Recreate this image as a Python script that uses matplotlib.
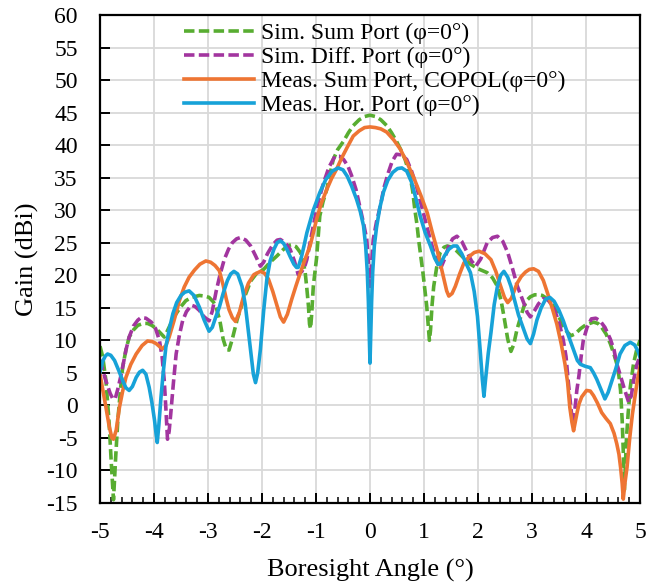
import matplotlib
matplotlib.use("Agg")
import matplotlib.pyplot as plt
from matplotlib.ticker import MultipleLocator

plt.rcParams['font.family'] = ['Liberation Serif', 'DejaVu Serif']
plt.rcParams['axes.unicode_minus'] = False

# ---- data ----
sum_sim_x = [-5.0, -4.95, -4.89, -4.83, -4.79, -4.75, -4.71, -4.67, -4.62, -4.58, -4.52, -4.46, -4.38,
             -4.3, -4.2, -4.12, -4.04, -3.96, -3.88, -3.81, -3.75, -3.67, -3.59, -3.5, -3.41, -3.3,
             -3.16, -3.06, -2.98, -2.9, -2.85, -2.78, -2.72, -2.66, -2.61, -2.55, -2.46, -2.34, -2.21,
             -2.1, -1.97, -1.85, -1.72, -1.6, -1.5, -1.45, -1.37, -1.29, -1.24, -1.2, -1.17, -1.14,
             -1.12, -1.1, -1.08, -1.05, -1.02, -0.99, -0.96, -0.93, -0.87, -0.8, -0.74, -0.68, -0.6,
             -0.49, -0.4, -0.31, -0.2, -0.1, 0.0, 0.1, 0.2, 0.31, 0.4, 0.49, 0.57, 0.65, 0.74, 0.79,
             0.83, 0.87, 0.9, 0.94, 0.98, 1.02, 1.05, 1.08, 1.1, 1.12, 1.15, 1.18, 1.24, 1.3, 1.37,
             1.43, 1.52, 1.61, 1.73, 1.86, 2.0, 2.17, 2.27, 2.36, 2.43, 2.48, 2.55, 2.61, 2.66, 2.72,
             2.79, 2.85, 2.91, 2.97, 3.05, 3.12, 3.19, 3.28, 3.41, 3.5, 3.56, 3.64, 3.72, 3.8,
             3.9, 4.0, 4.14, 4.22, 4.29, 4.37, 4.45, 4.52, 4.57, 4.61, 4.64, 4.67, 4.69, 4.71, 4.75,
             4.78, 4.82, 4.88, 4.94, 5.0]
sum_sim_y = [9.1, 7.5, 3.8, -2.8, -9.0, -14.5, -8.0, -2.3, 2.5, 5.9, 8.5, 10.5, 11.6,
             12.3, 12.6, 12.6, 12.3, 11.8, 11.1, 10.5, 11.5, 12.9, 14.1, 15.2, 16.1, 16.6,
             16.9, 16.8, 16.6, 15.9, 15.1, 13.0, 10.2, 8.6, 8.5, 10.2, 13.2, 16.3, 19.1,
             20.3, 20.9, 22.0, 23.0, 24.0, 24.6, 24.7, 24.4, 23.5, 22.2, 20.4, 18.0, 15.3,
             12.5, 11.8, 14.0, 18.3, 20.5, 22.6, 25.8, 29.1, 31.3, 33.2, 35.6, 37.8, 39.3,
             40.6, 41.9, 43.0, 43.9, 44.4, 44.6, 44.4, 43.9, 43.0, 41.9, 40.6, 39.3, 37.8, 35.3, 33.0,
             30.1, 27.8, 25.5, 23.0, 20.4, 17.5, 15.3, 12.0, 10.0, 11.5, 15.5, 18.3, 21.5, 23.5, 24.3,
             24.5, 24.3, 23.7, 22.7, 21.7, 21.0, 20.4, 19.6, 18.3, 16.0, 13.7, 10.2, 8.3, 9.3, 11.6,
             13.6, 15.2, 16.2, 16.7, 17.0, 17.0, 16.9, 16.4, 15.1, 13.6, 12.5, 11.4, 10.7, 11.0,
             11.8, 12.4, 12.8, 12.6, 12.0, 11.0, 9.5, 7.8, 6.4, 4.5, 2.3, -2.3, -7.0, -13.0, -5.0,
             -1.3, 2.8, 6.4, 8.6, 10.0]

diff_sim_x = [-5.0, -4.95, -4.9, -4.86, -4.81, -4.76, -4.72, -4.67, -4.62, -4.58, -4.52, -4.46, -4.38,
              -4.3, -4.24, -4.15, -4.05, -3.97, -3.9, -3.85, -3.81, -3.78, -3.75, -3.72, -3.69, -3.64,
              -3.59, -3.53, -3.47, -3.4, -3.31, -3.24, -3.16, -3.07, -2.98, -2.92, -2.85, -2.78, -2.7,
              -2.62, -2.55, -2.47, -2.4, -2.3, -2.21, -2.12, -2.03, -1.97, -1.9, -1.8, -1.72, -1.66,
              -1.57, -1.48, -1.4, -1.33, -1.26, -1.2, -1.17, -1.11, -1.05, -0.96, -0.86, -0.76, -0.65,
              -0.57, -0.49, -0.41, -0.34, -0.26, -0.19, -0.12, -0.06, -0.03, 0.0, 0.03, 0.06, 0.12,
              0.19, 0.26, 0.34, 0.41, 0.49, 0.58, 0.68, 0.77, 0.86, 0.95, 1.05, 1.1, 1.15, 1.22, 1.3,
              1.38, 1.46, 1.53, 1.61, 1.7, 1.8, 1.88, 1.96, 2.05, 2.17, 2.27, 2.36, 2.46, 2.55, 2.64,
              2.73, 2.79, 2.85, 2.91, 2.97, 3.05, 3.12, 3.21, 3.3, 3.4, 3.5, 3.58, 3.63, 3.67, 3.71,
              3.75, 3.79, 3.83, 3.87, 3.91, 3.95, 4.02, 4.1, 4.18, 4.26, 4.35, 4.45, 4.52, 4.57, 4.64,
              4.7, 4.79, 4.84, 4.88, 4.94, 5.0]
diff_sim_y = [7.0, 5.5, 4.0, 3.0, 1.8, 1.0, 1.0, 2.5, 4.3, 5.9, 8.5, 10.5, 12.2,
              13.1, 13.5, 13.4, 12.8, 11.8, 10.0, 7.5, 3.8, -0.5, -5.2, -4.0, -1.3, 3.5,
              7.9, 10.8, 13.0, 14.4, 15.4, 15.2, 14.6, 13.6, 13.0, 14.5, 17.5, 20.0, 22.4,
              24.0, 25.0, 25.6, 25.8, 25.4, 24.5, 23.0, 21.4, 22.0, 23.3, 24.7, 25.4, 25.5,
              25.0, 24.0, 22.2, 20.1, 20.6, 21.6, 22.4, 25.0, 27.6, 31.2, 34.2, 36.6, 38.3,
              38.3, 37.8, 36.8, 35.3, 33.2, 30.6, 28.0, 25.5, 22.0, 18.3, 22.0, 25.5, 28.2,
              30.6, 33.5, 35.8, 37.5, 38.6, 38.5, 37.8, 36.0, 33.7, 30.8, 27.6, 26.0, 24.5, 22.5, 20.9,
              22.5, 24.5, 25.6, 26.0, 25.2, 23.5, 22.2, 21.4, 22.5, 25.0, 25.8, 26.0, 25.2, 23.5, 21.0,
              18.3, 17.0, 15.7, 14.3, 13.6, 14.6, 15.6, 16.4, 16.2, 15.0, 12.8, 10.0, 7.5, 3.8, 0.5,
              -2.8, -1.0, 2.3, 4.6, 7.5, 10.0, 12.0, 13.3, 13.4, 13.0, 12.0, 10.2, 8.5, 6.4, 4.5,
              2.8, 0.5, 1.5, 3.8, 6.2, 7.6]

sum_meas_x = [-5.0, -4.95, -4.89, -4.83, -4.78, -4.75, -4.7, -4.64, -4.58, -4.52, -4.43, -4.33, -4.22,
              -4.12, -4.03, -3.96, -3.89, -3.84, -3.78, -3.72, -3.63, -3.53, -3.44, -3.35, -3.25, -3.15,
              -3.04, -2.95, -2.87, -2.79, -2.72, -2.66, -2.61, -2.55, -2.49, -2.42, -2.34, -2.25, -2.15,
              -2.03, -1.95, -1.88, -1.8, -1.72, -1.66, -1.6, -1.53, -1.45, -1.37, -1.29, -1.2, -1.11,
              -1.05, -0.99, -0.9, -0.8, -0.71, -0.62, -0.52, -0.42, -0.31, -0.2, -0.1, 0.0, 0.1, 0.2,
              0.31, 0.44, 0.56, 0.68, 0.81, 0.94, 1.06, 1.15, 1.24, 1.31, 1.37, 1.42, 1.46, 1.52, 1.58,
              1.66, 1.74, 1.84, 1.93, 2.02, 2.13, 2.24, 2.33, 2.42, 2.49, 2.55, 2.62, 2.72, 2.8, 2.88,
              2.95, 3.03, 3.12, 3.21, 3.29, 3.38, 3.46, 3.54, 3.61, 3.66, 3.7, 3.74, 3.77, 3.8,
              3.83, 3.87, 3.92, 4.01, 4.08, 4.14, 4.21, 4.29, 4.37, 4.45, 4.52, 4.57, 4.61, 4.64, 4.67,
              4.69, 4.72, 4.76, 4.81, 4.86, 4.91, 4.95, 5.0]
sum_meas_y = [4.8, 2.5, -0.3, -3.2, -5.0, -5.2, -3.8, -0.3, 2.2, 4.3, 6.3, 7.9, 9.2,
              9.9, 9.8, 9.5, 9.0, 8.7, 9.2, 10.5, 13.0, 16.1, 18.2, 19.7, 20.8, 21.7,
              22.2, 22.0, 21.5, 20.7, 18.5, 16.3, 14.7, 13.5, 12.9, 14.3, 16.8, 18.8, 20.1,
              20.6, 20.3, 19.4, 17.5, 15.3, 13.6, 12.8, 14.0, 16.3, 18.4, 20.4, 22.5, 24.5,
              26.5, 28.6, 31.1, 33.2, 34.9, 36.3, 38.1, 39.7, 41.4, 42.2, 42.7, 42.8, 42.7, 42.5,
              42.0, 40.8, 39.4, 37.4, 35.0, 32.3, 29.6, 26.7, 24.0, 21.5, 19.4, 17.6, 16.8, 17.2, 18.3,
              20.2, 21.9, 22.9, 23.5, 23.7, 23.3, 22.4, 20.6, 18.3, 16.6, 15.8, 16.5, 18.7, 19.8, 20.5,
              20.9, 21.0, 20.6, 19.2, 17.2, 14.8, 12.5, 9.5, 6.4, 3.5, -0.3, -2.6, -3.9, -2.6,
              -1.3, 0.2, 1.3, 2.3, 2.2, 1.5, 0.4, -1.1, -2.0, -2.8, -4.3, -5.9, -7.5, -9.5, -12.0,
              -14.4, -12.0, -9.5, -5.0, -1.3, 1.5, 3.8, 5.9]

hor_meas_x = [-5.0, -4.95, -4.9, -4.86, -4.8, -4.73, -4.65, -4.58, -4.52, -4.46, -4.4, -4.33, -4.27,
              -4.21, -4.15, -4.09, -4.04, -3.99, -3.96, -3.94, -3.91, -3.87, -3.83, -3.78, -3.72, -3.65,
              -3.58, -3.5, -3.43, -3.35, -3.26, -3.16, -3.07, -2.98, -2.92, -2.86, -2.79, -2.72, -2.64,
              -2.58, -2.52, -2.45, -2.37, -2.31, -2.25, -2.2, -2.16, -2.12, -2.08, -2.03, -1.97, -1.91,
              -1.85, -1.78, -1.72, -1.66, -1.6, -1.54, -1.48, -1.41, -1.36, -1.33, -1.27, -1.22, -1.17,
              -1.05, -0.93, -0.82, -0.7, -0.59, -0.5, -0.42, -0.34, -0.25, -0.18, -0.12, -0.08, -0.05,
              -0.03, -0.015, 0.0, 0.015, 0.03, 0.05, 0.08, 0.12, 0.18, 0.25, 0.33, 0.42, 0.51, 0.59,
              0.68, 0.77, 0.85, 0.93, 1.02, 1.12, 1.2, 1.26, 1.3, 1.38, 1.46, 1.54, 1.61, 1.7, 1.78,
              1.86, 1.93, 1.99, 2.04, 2.08, 2.11, 2.14, 2.19, 2.24, 2.3, 2.36, 2.42, 2.48, 2.55, 2.61,
              2.66, 2.75, 2.85, 2.91, 2.97, 3.03, 3.09, 3.17, 3.25, 3.33, 3.41, 3.5, 3.58, 3.68, 3.77,
              3.84, 3.9, 3.99, 4.08, 4.14, 4.2, 4.27, 4.35, 4.41, 4.48, 4.55, 4.63, 4.72, 4.82, 4.9,
              4.97, 5.0]
hor_meas_y = [5.1, 6.8, 7.6, 7.9, 7.7, 6.9, 5.3, 3.8, 2.7, 2.3, 2.9, 4.3, 5.1,
              5.4, 4.8, 2.8, 0.5, -2.3, -4.5, -5.7, -3.0, 1.3, 5.0, 9.0, 11.6, 14.1,
              15.8, 16.9, 17.4, 17.6, 16.9, 15.1, 13.1, 11.4, 12.0, 13.5, 15.1, 17.2, 19.2,
              20.2, 20.6, 20.2, 18.3, 15.5, 11.2, 7.5, 4.8, 3.5, 5.0, 8.6, 14.5, 19.4,
              22.2, 24.0, 25.0, 25.3, 24.9, 24.0, 22.9, 21.7, 21.2, 21.2, 22.8, 24.6, 26.5,
              30.0, 32.7, 34.7, 36.0, 36.5, 36.2, 35.2, 33.7, 31.7, 29.8, 27.6, 24.5, 20.5,
              16.0, 11.0, 6.5, 11.0, 16.0, 20.5, 24.5, 27.3, 30.3, 32.8, 34.6, 35.8, 36.4, 36.5,
              36.0, 34.3, 31.8, 29.1, 26.6, 24.5, 22.6, 21.7, 21.7, 23.0, 24.0, 24.5, 24.5, 23.3, 21.8,
              20.4, 17.5, 13.7, 8.5, 4.0, 1.4, 4.0, 8.0, 11.2, 15.5, 18.3, 20.0, 20.6, 19.7, 18.3,
              16.7, 13.9, 11.6, 10.2, 9.5, 11.0, 13.1, 15.0, 16.3, 16.6, 16.0, 14.6, 13.0, 10.6, 8.5,
              6.9, 6.3, 6.0, 5.8, 5.0, 4.0, 2.6, 1.0, 2.0, 3.8, 5.6, 7.9, 9.2, 9.7, 9.3,
              8.2, 7.4]

labels = ["Sim. Sum Port (\u03c6=0\u00b0)", "Sim. Diff. Port (\u03c6=0\u00b0)",
          "Meas. Sum Port, COPOL(\u03c6=0\u00b0)", "Meas. Hor. Port (\u03c6=0\u00b0)"]
colors = ["#58ad31", "#a2359f", "#ee7533", "#17a2d8"]

fig = plt.figure(figsize=(6.59, 5.82), dpi=100)
ax = fig.add_axes([100/659, 1-503/582, 540/659, 488/582])

lw = 2.6
dash = (0, (2.9, 1.2))
ax.plot(sum_sim_x, sum_sim_y, color=colors[0], lw=lw, ls=dash, label=labels[0],
        solid_joinstyle='round')
ax.plot(diff_sim_x, diff_sim_y, color=colors[1], lw=lw, ls=dash, label=labels[1],
        solid_joinstyle='round')
ax.plot(sum_meas_x, sum_meas_y, color=colors[2], lw=lw, label=labels[2], solid_joinstyle='round')
ax.plot(hor_meas_x, hor_meas_y, color=colors[3], lw=lw, label=labels[3], solid_joinstyle='round')

ax.set_xlim(-5, 5)
ax.set_ylim(-15, 60)
ax.xaxis.set_major_locator(MultipleLocator(1))
ax.xaxis.set_minor_locator(MultipleLocator(0.2))
ax.yaxis.set_major_locator(MultipleLocator(5))
ax.grid(True, which='major', color='#d9d9d9', lw=1.3)
ax.set_axisbelow(True)
for s in ax.spines.values():
    s.set_linewidth(1.6)
    s.set_color('black')
ax.tick_params(axis='both', which='major', direction='in', length=7, width=1.4,
               labelsize=17, top=False, right=False, pad=14)
ax.tick_params(axis='y', pad=16)
ax.tick_params(axis='x', which='minor', direction='in', length=4.5, width=1.1, top=False)

ax.set_xlabel("Boresight Angle (\u00b0)", fontsize=19, labelpad=11)
ax.set_ylabel("Gain (dBi)", fontsize=19, labelpad=5)

leg = ax.legend(loc='upper left', bbox_to_anchor=((184-100)/540, 0.985), frameon=False,
                fontsize=17, handlelength=2.95, handletextpad=0.33, labelspacing=0.11,
                borderpad=0, borderaxespad=0)

fig.savefig("out.png", dpi=100)
